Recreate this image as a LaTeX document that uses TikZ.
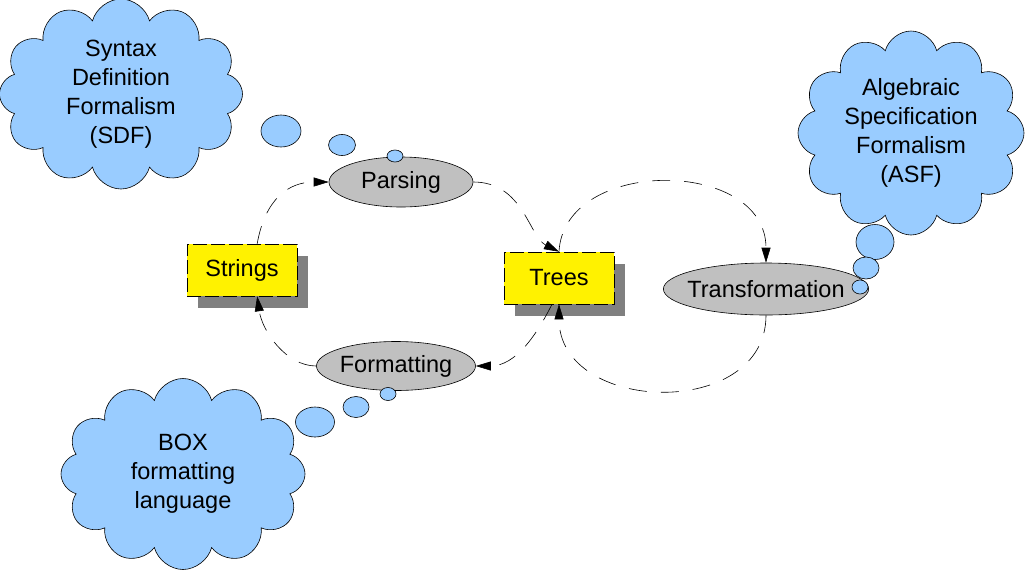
\documentclass[tikz,border=0pt]{standalone}
\usepackage{fontspec}
\setmainfont{Liberation Sans}
\usetikzlibrary{arrows.meta,shapes.geometric,shapes.symbols,shadows}
\definecolor{cloudblue}{HTML}{99CCFF}
\definecolor{ovalgray}{HTML}{C0C0C0}
\definecolor{shadowgray}{HTML}{808080}

\begin{document}
\begin{tikzpicture}[x=1pt,y=-1pt]
    \tikzstyle{every node}=[font=\fontsize{23.5}{29}\selectfont]
    \tikzstyle{datum}=[draw,dash pattern=on 14pt off 4pt,line width=0.6pt,fill=yellow,
        minimum width=110pt,minimum height=52pt,inner sep=0,
        drop shadow={shadow xshift=11pt,shadow yshift=-12pt,fill=shadowgray,opacity=1}]
    \tikzstyle{tool}=[draw,ellipse,fill=ovalgray,line width=0.6pt,inner sep=0]
    \tikzstyle{thought}=[draw,cloud,cloud puffs=12,cloud ignores aspect,fill=cloudblue,
        line width=0.6pt,align=center,inner sep=0]
    \tikzstyle{bubble}=[draw,ellipse,fill=cloudblue,line width=0.6pt,inner sep=0]
    \tikzstyle{flow}=[line width=0.6pt,dash pattern=on 18pt off 14pt,-{Triangle[length=15pt,width=9pt]}]
    \useasboundingbox (0,0) rectangle (1027,571);
    % data
    \path (242,270) node[datum] (strings) {Strings};
    \path (559,278) node[datum] (trees) {Trees};
    % tools
    \path (401,182) node[tool,minimum width=144pt,minimum height=50pt] (parsing) {Parsing};
    \path (396,366) node[tool,minimum width=159pt,minimum height=49pt] (formatting) {Formatting};
    \path (766,289) node[tool,inner xsep=-6pt,minimum width=202pt,minimum height=52pt] (transformation) {Transformation};
    % formalisms
    \path (121,94) node[thought,minimum width=243pt,minimum height=190pt] (sdf) {Syntax\\Definition\\Formalism\\(SDF)};
    \path (911,133) node[thought,minimum width=226pt,minimum height=204pt] (asf) {Algebraic\\Specification\\Formalism\\(ASF)};
    \path (183,474) node[thought,minimum width=244pt,minimum height=191pt] (box) {BOX\\formatting\\language};
    \path (281,131) node[bubble,minimum width=40pt,minimum height=32pt] (sdfa) {};
    \path (342,145) node[bubble,minimum width=27pt,minimum height=21pt] (sdfb) {};
    \path (395,156) node[bubble,minimum width=16pt,minimum height=12pt] (sdfc) {};
    \path (875,242) node[bubble,minimum width=38pt,minimum height=35pt] (asfa) {};
    \path (866,268) node[bubble,minimum width=26pt,minimum height=22pt] (asfb) {};
    \path (860,287) node[bubble,minimum width=16pt,minimum height=14pt] (asfc) {};
    \path (315,422) node[bubble,minimum width=39pt,minimum height=30pt] (boxa) {};
    \path (356,407) node[bubble,minimum width=26pt,minimum height=21pt] (boxb) {};
    \path (388,394) node[bubble,minimum width=16pt,minimum height=13pt] (boxc) {};
    % the flow between strings and trees
    \draw[flow] (strings.60) .. controls +(8,-45) and +(-40,0) .. (parsing.west);
    \draw[flow] (parsing.east) .. controls +(50,0) and +(-30,-15) .. (trees.north);
    \draw[flow] (trees.north) .. controls +(5,-95) and +(0,-105) .. (transformation.north);
    \draw[flow] (transformation.south) .. controls +(0,105) and +(0,110) .. (trees.south);
    \draw[flow] (trees.-105) .. controls +(-15,30) and +(40,0) .. (formatting.east);
    \draw[flow] (formatting.west) .. controls +(-30,0) and +(5,35) .. (strings.-60);
\end{tikzpicture}
\end{document}
